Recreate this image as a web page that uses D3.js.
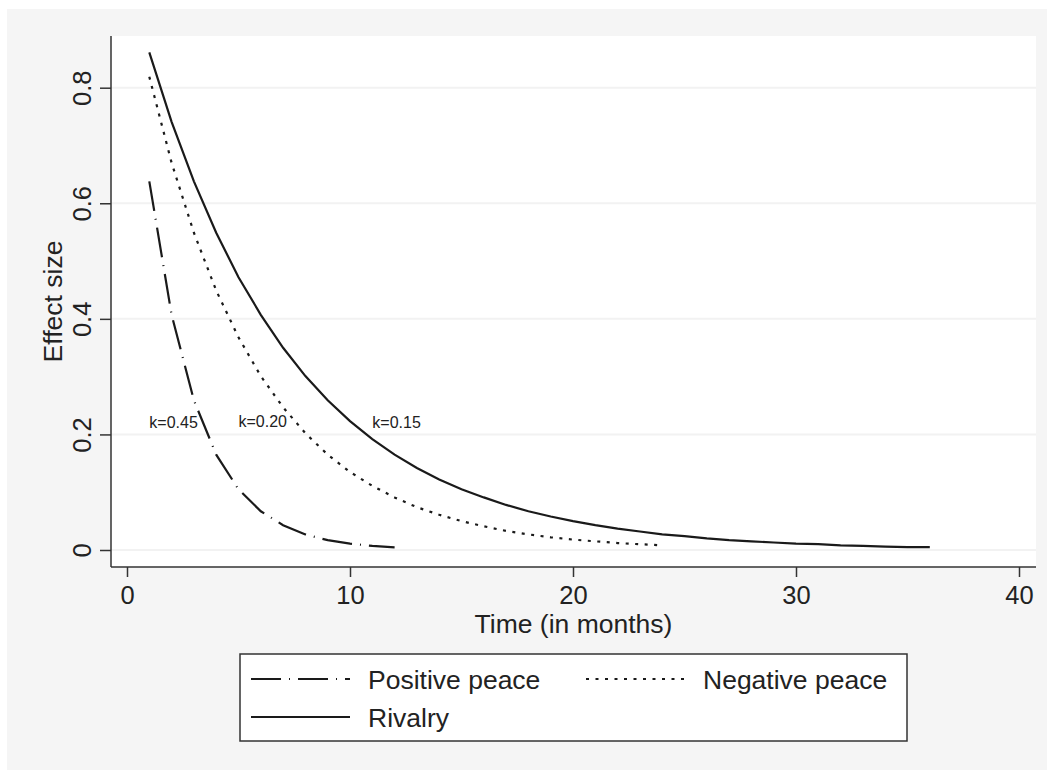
<!DOCTYPE html>
<html>
<head>
<meta charset="utf-8">
<script src="https://cdn.jsdelivr.net/npm/d3@7"></script>
<style>
  body { margin: 0; background: #fff; }
  text { font-family: "Liberation Sans", Arial, sans-serif; fill: #222; }
</style>
</head>
<body>
<svg id="chart" width="1047" height="770"></svg>
<script>
// months since onset
var months = [1, 2, 3, 4, 5, 6, 7, 8, 9, 10, 11, 12, 13, 14, 15, 16, 17, 18,
  19, 20, 21, 22, 23, 24, 25, 26, 27, 28, 29, 30, 31, 32, 33, 34, 35, 36];

// effect size
var positivePeace = [0.638, 0.407, 0.259, 0.165, 0.105, 0.067, 0.043, 0.027,
  0.017, 0.011, 0.007, 0.0045];
var negativePeace = [0.819, 0.670, 0.549, 0.449, 0.368, 0.301, 0.247, 0.202,
  0.165, 0.135, 0.111, 0.091, 0.074, 0.061, 0.050, 0.041, 0.033, 0.027,
  0.022, 0.018, 0.015, 0.012, 0.010, 0.008];
var rivalry = [0.861, 0.741, 0.638, 0.549, 0.472, 0.407, 0.350, 0.301, 0.259,
  0.223, 0.192, 0.165, 0.142, 0.122, 0.105, 0.091, 0.078, 0.067, 0.058, 0.050,
  0.043, 0.037, 0.032, 0.027, 0.024, 0.020, 0.017, 0.015, 0.013, 0.011, 0.010,
  0.008, 0.007, 0.006, 0.005, 0.005];

var xTicks = [0, 10, 20, 30, 40];
var yTicks = [0, 0.2, 0.4, 0.6, 0.8];

var kLabels = ['k=0.45', 'k=0.20', 'k=0.15'];
var kX = [1, 5, 11];
var kY = [0.22, 0.222, 0.22];

var seriesNames = ['Positive peace', 'Negative peace', 'Rivalry'];
var dashes = {
  'Positive peace': '30 8 1 8',
  'Negative peace': '3 6.5',
  'Rivalry': null
};

var svg = d3.select('#chart');

// outer grey panel
svg.append('rect')
  .attr('x', 7).attr('y', 9)
  .attr('width', 1040).attr('height', 761)
  .attr('fill', '#f5f5f5');

var plot = { left: 111, top: 36, right: 1036, bottom: 567 };

svg.append('rect')
  .attr('x', plot.left).attr('y', plot.top)
  .attr('width', plot.right - plot.left)
  .attr('height', plot.bottom - plot.top)
  .attr('fill', '#fff');

var x = d3.scaleLinear().domain([0, 40]).range([127, 1019]);
var y = d3.scaleLinear().domain([0, 0.8]).range([550, 87.7]);

// gridlines
svg.append('g').selectAll('line')
  .data(yTicks)
  .enter().append('line')
  .attr('x1', plot.left).attr('x2', plot.right)
  .attr('y1', function (d) { return y(d); })
  .attr('y2', function (d) { return y(d); })
  .attr('stroke', '#f2f2f2')
  .attr('stroke-width', 2);

// axes
var xAxis = svg.append('g')
  .attr('transform', 'translate(0,' + plot.bottom + ')')
  .call(d3.axisBottom(x).tickValues(xTicks).tickSize(10).tickPadding(12).tickFormat(d3.format('d')));
xAxis.select('.domain').attr('d', 'M' + plot.left + ',0H' + plot.right);

var yAxis = svg.append('g')
  .attr('transform', 'translate(' + plot.left + ',0)')
  .call(d3.axisLeft(y).tickValues(yTicks).tickSize(11).tickFormat(function (d) { return d === 0 ? '0' : d3.format('.1f')(d); }));
yAxis.select('.domain').attr('d', 'M0,' + plot.top + 'V' + plot.bottom);

svg.selectAll('.domain, .tick line')
  .attr('stroke', '#333')
  .attr('stroke-width', 1.5);

xAxis.selectAll('.tick text')
  .attr('font-size', 25.5)
  .attr('fill', '#222')
  .attr('dy', null)
  .attr('y', 37);

yAxis.selectAll('.tick text')
  .attr('font-size', 25.5)
  .attr('fill', '#222')
  .attr('x', null).attr('dy', null)
  .attr('text-anchor', 'middle')
  .attr('transform', 'translate(-20,0) rotate(-90)');

// axis titles
svg.append('text')
  .attr('x', (plot.left + plot.right) / 2)
  .attr('y', 633)
  .attr('text-anchor', 'middle')
  .attr('font-size', 26.5)
  .text('Time (in months)');

svg.append('text')
  .attr('transform', 'translate(62,' + (plot.top + plot.bottom) / 2 + ') rotate(-90)')
  .attr('text-anchor', 'middle')
  .attr('font-size', 26.5)
  .text('Effect size');

// curves
var line = d3.line()
  .x(function (d) { return x(d[0]); })
  .y(function (d) { return y(d[1]); });

var seriesData = [positivePeace, negativePeace, rivalry];

seriesNames.forEach(function (name, i) {
  var pts = seriesData[i].map(function (v, j) { return [months[j], v]; });
  svg.append('path')
    .datum(pts)
    .attr('d', line)
    .attr('fill', 'none')
    .attr('stroke', '#1a1a1a')
    .attr('stroke-width', 2.2)
    .attr('stroke-dasharray', dashes[name]);
});

// k labels
svg.append('g').selectAll('text')
  .data(kLabels)
  .enter().append('text')
  .attr('x', function (d, i) { return x(kX[i]); })
  .attr('y', function (d, i) { return y(kY[i]) + 5.5; })
  .attr('font-size', 16)
  .text(function (d) { return d; });

// legend
var legend = svg.append('g');
legend.append('rect')
  .attr('x', 240).attr('y', 654)
  .attr('width', 667).attr('height', 87)
  .attr('fill', '#fff')
  .attr('stroke', '#333')
  .attr('stroke-width', 1.5);

var legendPos = [[251, 679], [586, 679], [251, 717]];
seriesNames.forEach(function (name, i) {
  var p = legendPos[i];
  legend.append('line')
    .attr('x1', p[0]).attr('x2', p[0] + 99)
    .attr('y1', p[1]).attr('y2', p[1])
    .attr('stroke', '#1a1a1a')
    .attr('stroke-width', 2)
    .attr('stroke-dasharray', dashes[name]);
  legend.append('text')
    .attr('x', p[0] + 117)
    .attr('y', p[1] + 10)
    .attr('font-size', 26.5)
    .text(name);
});
</script>
</body>
</html>
